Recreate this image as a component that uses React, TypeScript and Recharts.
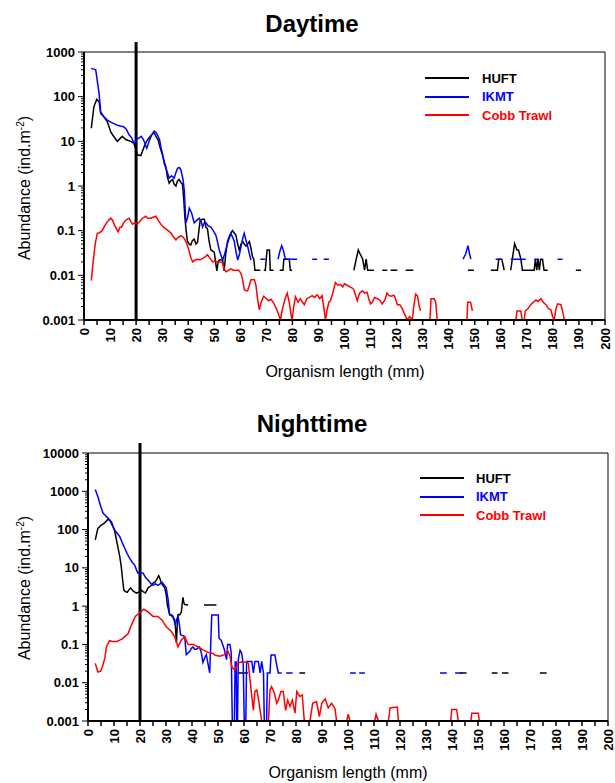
import React from 'react';
import { LineChart, Line, XAxis, YAxis, ReferenceLine, ReferenceArea, Legend } from 'recharts';

type Pt = [number, number | null];

// ---- Daytime (abundance, ind.m-2, by organism length in mm) ----
const dayHuft: Pt[] = [
  [2.8, 19.6], [3.8, 60], [4.9, 87], [5.8, 77], [6.4, 42], [7.7, 35], [9, 27], [10.3, 16], [11.5, 12.7],
  [12.8, 10], [13.8, 11.5], [14.7, 13], [16, 11], [17.9, 10], [19.2, 9], [20.5, 5], [21.8, 4.8], [23.1, 7.6],
  [24, 10], [25, 12], [26, 14], [26.9, 15.8], [27.6, 13], [28.5, 10.5], [29.3, 7], [30.1, 5], [30.8, 3.5],
  [31.4, 2.7], [32, 1.6], [32.7, 1.15], [33.3, 1.3], [34, 1.4], [34.6, 1.1], [35.3, 1], [35.9, 1.3], [36.5, 1.4],
  [37.2, 1.2], [37.8, 1.1], [38.3, 0.5], [38.7, 0.21], [39.2, 0.1], [39.7, 0.058], [40.4, 0.05], [41, 0.048],
  [41.6, 0.06], [42.3, 0.065], [43, 0.05], [43.6, 0.055], [44.1, 0.1], [44.6, 0.17], [45.4, 0.18], [46.2, 0.18],
  [46.8, 0.12], [47.4, 0.11], [48, 0.06], [48.7, 0.037], [49.4, 0.035], [50, 0.033], [50.5, 0.02], [51, 0.0126],
  [51.5, 0.02], [51.9, 0.022], [52.6, 0.022], [53.2, 0.022], [53.8, 0.0126], [54.4, 0.03], [55.1, 0.058],
  [56, 0.08], [57, 0.1], [57.6, 0.09], [58.3, 0.08], [59, 0.05], [59.6, 0.037], [60.3, 0.05], [60.9, 0.058],
  [61.5, 0.05], [62.2, 0.045], [62.8, 0.05], [63.5, 0.057], [64.1, 0.04], [64.7, 0.026], [65.2, 0.023],
  [65.6, 0.013], [67.7, 0.013], [68.2, null],
  [69, 0.013], [69.6, 0.013], [70, 0.025], [70.3, 0.037], [71.2, 0.037], [71.5, 0.013], [72.8, 0.013], [73.2, null],
  [75.1, 0.013], [76.4, 0.013], [76.7, 0.023], [78.8, 0.023], [79.2, 0.013], [79.9, 0.013], [80.3, null],
  [103.6, 0.013], [104.5, 0.023], [105.3, 0.037], [106, 0.03], [107, 0.023], [107.7, 0.013], [108.3, 0.023],
  [108.9, 0.013], [111.3, 0.013], [111.6, null],
  [114.5, 0.013], [116.4, 0.013], [116.8, null], [117.7, 0.013], [120.3, 0.013], [120.7, null],
  [123.5, 0.013], [126.4, 0.013], [126.8, null],
  [147.4, 0.013], [149.7, 0.013], [150, null],
  [156.2, 0.013], [158.7, 0.013], [159.2, 0.023], [160.4, 0.023], [161.3, 0.013], [161.9, null],
  [163.8, 0.013], [164.5, 0.025], [165.3, 0.051], [166.2, 0.037], [166.8, 0.037], [167.7, 0.023], [168.3, 0.013],
  [172.8, 0.013], [173.3, 0.023], [173.8, 0.013], [174.3, 0.023], [174.8, 0.013], [175.3, 0.023], [176, 0.023],
  [176.6, 0.013], [178, 0.013], [178.4, null],
  [188.8, 0.013], [190.8, 0.013],
];

const dayIkmt: Pt[] = [
  [2.8, 430], [4.5, 400], [5.8, 117], [6.4, 46], [7.7, 35], [9, 30], [10.3, 27], [11.5, 25], [12.8, 23], [14, 22],
  [15.4, 21], [16.4, 18], [17.3, 14], [18.3, 12], [19.2, 9], [20.2, 11], [21.2, 12], [22, 13], [22.8, 11],
  [24.1, 7], [25, 10], [26, 14], [26.9, 17], [27.6, 16], [28.2, 14], [29, 11], [29.5, 7.6], [30.2, 5], [30.8, 3.2],
  [31.8, 2.2], [32.7, 1.5], [33.6, 1.7], [34.6, 1.5], [35.3, 2], [35.9, 2.5], [36.6, 2.6], [37.2, 2.3], [38, 1.4],
  [38.5, 0.8], [39.1, 0.15], [39.8, 0.2], [40.4, 0.32], [41.3, 0.25], [42.3, 0.15], [43.3, 0.17], [44.2, 0.19],
  [45, 0.16], [45.5, 0.12], [46.2, 0.15], [46.8, 0.15], [47.6, 0.13], [48.7, 0.12], [49.6, 0.1], [50.6, 0.08],
  [51.3, 0.055], [51.9, 0.037], [52.6, 0.028], [53.2, 0.022], [54, 0.03], [55, 0.05], [56.4, 0.087], [57.1, 0.07],
  [57.7, 0.057], [58.3, 0.035], [59, 0.022], [59.7, 0.03], [60.3, 0.045], [61, 0.07], [61.5, 0.087], [62.2, 0.06],
  [62.8, 0.045], [63.5, 0.03], [64.1, 0.022], [64.5, null],
  [67.7, 0.023], [69.6, 0.023], [70, null],
  [74.5, 0.023], [75.2, 0.035], [75.9, 0.046], [76.6, 0.035], [77.3, 0.023], [81.8, 0.023], [82.2, null],
  [87.6, 0.023], [89.5, 0.023], [90, null], [92, 0.023], [94, 0.023], [94.5, null],
  [145.5, 0.023], [146.5, 0.03], [147.4, 0.046], [148, 0.03], [148.5, 0.023], [149, null],
  [158, 0.023], [160, 0.023], [160.5, null],
  [163.8, 0.023], [169.6, 0.023], [170, null], [172.8, 0.023], [174.7, 0.023], [175, null],
  [181.8, 0.023], [183.7, 0.023],
];

const dayCobb: Pt[] = [
  [2.8, 0.0076], [3.5, 0.02], [4.3, 0.05], [5.1, 0.087], [6, 0.09], [7, 0.1], [8, 0.13], [9, 0.16], [10.3, 0.19],
  [11, 0.17], [11.8, 0.13], [13.1, 0.095], [13.8, 0.12], [14.4, 0.12], [15.2, 0.15], [16, 0.17], [17.3, 0.19],
  [18, 0.16], [18.6, 0.14], [19.5, 0.15], [20.5, 0.14], [21.4, 0.16], [22.4, 0.19], [23.7, 0.21], [24.5, 0.19],
  [25.6, 0.19], [26.5, 0.2], [27.6, 0.21], [28.5, 0.17], [29.5, 0.14], [30.5, 0.12], [31.4, 0.11], [32.3, 0.1],
  [33.3, 0.09], [34.2, 0.075], [35.3, 0.062], [36, 0.07], [37.2, 0.077], [38.2, 0.07], [39.1, 0.058],
  [39.8, 0.045], [40.4, 0.034], [41, 0.025], [41.7, 0.02], [42.6, 0.022], [43.6, 0.023], [44.5, 0.022],
  [45.5, 0.024], [46.5, 0.026], [47.4, 0.029], [48.4, 0.024], [49.4, 0.02], [50.3, 0.021], [51.3, 0.02],
  [52.3, 0.02], [53.2, 0.019], [53.8, 0.014], [54.5, 0.012], [55.5, 0.013], [56.4, 0.014], [57.4, 0.013],
  [58.3, 0.013], [59.4, 0.013], [60.3, 0.011], [60.9, 0.008], [61.5, 0.0048], [62.2, 0.0045], [62.8, 0.0045],
  [63.5, 0.006], [64.1, 0.008], [64.8, 0.008], [65.4, 0.008], [66, 0.006], [66.7, 0.0028], [67.3, 0.0017],
  [68, 0.0025], [69, 0.0034], [70, 0.003], [70.9, 0.0027], [71.8, 0.0029], [72.8, 0.0024], [73.8, 0.0018],
  [74.6, 0.0014], [75.4, 0.001], [76.2, 0.0018], [77.2, 0.003], [78, 0.004], [78.8, 0.0025], [79.5, 0.0013],
  [79.9, 0.001], [80.5, 0.002], [81.2, 0.0033], [82.2, 0.0025], [83, 0.003], [83.7, 0.0026], [84.6, 0.0022],
  [85.5, 0.003], [86.5, 0.0032], [87.6, 0.0035], [88.5, 0.0032], [89.5, 0.0037], [90.5, 0.003], [91.4, 0.0035],
  [92, 0.002], [92.7, 0.001], [93.3, 0.0017], [94, 0.0025], [94.6, 0.0027], [95.5, 0.004], [96.5, 0.0069],
  [97.5, 0.006], [98.5, 0.0062], [99.3, 0.0055], [100, 0.0065], [101, 0.006], [102, 0.0055], [103, 0.0052],
  [103.6, 0.0048], [104.3, 0.0035], [104.9, 0.0027], [105.8, 0.004], [106.8, 0.0045], [107.7, 0.004],
  [108.7, 0.0042], [109.3, 0.003], [110, 0.0023], [110.7, 0.0025], [111.5, 0.0032], [112.6, 0.003],
  [113.5, 0.0028], [114.5, 0.0023], [115.5, 0.0028], [116.3, 0.004], [117.1, 0.0035], [118, 0.0034],
  [119, 0.0036], [119.6, 0.003], [120.3, 0.0022], [121.2, 0.0022], [122.2, 0.0018], [123.2, 0.0013],
  [124.1, 0.001], [125, 0.0012], [126, 0.001], [126.6, 0.002], [127.3, 0.0038], [128, 0.0035], [128.7, 0.002],
  [129.2, 0.0016], [129.5, null],
  [132.8, 0.001], [133.2, 0.003], [134.4, 0.003], [135, 0.0025], [135.6, 0.001], [136, null],
  [147, 0.001], [147.3, 0.0025], [148.4, 0.0025], [149.1, 0.0016], [149.5, null],
  [165.8, 0.001], [166.2, 0.0016], [167.7, 0.0016], [168.2, 0.001], [169, 0.001], [169.4, 0.0016],
  [170.5, 0.0018], [171.5, 0.0022], [172.5, 0.0025], [173.5, 0.0028], [174.3, 0.0026], [175.4, 0.003],
  [176.3, 0.0025], [177.3, 0.0022], [178.3, 0.0018], [179.2, 0.0017], [179.9, 0.0012], [180.5, 0.001],
  [181.2, 0.0018], [181.8, 0.0023], [183.1, 0.0022], [183.8, 0.0015], [184.4, 0.001], [185, null],
];

// ---- Nighttime ----
const nightHuft: Pt[] = [
  [2.8, 54], [3.8, 107], [5.1, 131], [6.4, 150], [7.7, 185], [9, 160], [10.3, 89], [11.5, 35], [12.2, 20],
  [12.8, 10.7], [13.3, 5], [13.8, 2.6], [14.4, 2.4], [15.1, 2.3], [15.8, 2.7], [16.4, 3], [17.3, 2.5],
  [18.6, 2.2], [19.9, 2.4], [20.5, 2.6], [21.2, 2.4], [22.1, 2.2], [23.1, 3], [24, 3.3], [25, 4], [25.7, 4.2],
  [26.3, 4.8], [27.2, 6.2], [27.7, 5.2], [28.2, 4], [29.5, 3], [30.1, 2], [30.5, 1.1], [31.4, 0.6], [32.3, 0.55],
  [33.3, 0.45], [33.7, 0.25], [34, 0.11], [34.3, 0.3], [34.6, 0.6], [35.3, 0.6], [35.9, 0.7], [36.5, 1.7],
  [36.9, 1.2], [37.2, 1.1], [38.5, 1.07], [38.8, null],
  [44.6, 1.07], [49.4, 1.07], [49.7, null],
  [57.5, 0.018], [61.5, 0.018], [61.8, null],
  [81.3, 0.018], [83.5, 0.018], [83.8, null],
  [143.1, 0.018], [145.6, 0.018], [145.9, null],
  [155.3, 0.018], [157.5, 0.018], [157.8, null], [159.2, 0.018], [161.7, 0.018], [162, null],
  [173.8, 0.018], [176.4, 0.018],
];

const nightIkmt: Pt[] = [
  [2.8, 1120], [3.8, 720], [4.9, 400], [5.8, 265], [6.5, 240], [7.1, 218], [8.3, 180], [9.3, 130], [10.3, 97],
  [11.2, 80], [12.2, 66], [13.2, 45], [14.1, 33], [15, 24], [16, 18], [17, 14], [17.9, 12], [18.6, 9],
  [19.2, 7.3], [20.2, 7.5], [21.2, 7.3], [22.2, 5.5], [23.1, 4.8], [24, 4], [25, 3.5], [26, 3.8], [26.9, 3.5],
  [27.7, 3.8], [28.5, 4.2], [29.3, 3.6], [30.1, 3], [30.8, 1.5], [31.4, 0.59], [32, 0.6], [32.7, 0.55],
  [33.2, 0.4], [33.6, 0.32], [34.1, 0.45], [34.6, 0.55], [35.1, 0.35], [35.6, 0.18], [36.4, 0.17], [37.2, 0.16],
  [37.8, 0.054], [38.5, 0.06], [39.1, 0.065], [39.8, 0.08], [40.4, 0.085], [41, 0.075], [41.7, 0.075],
  [42.3, 0.08], [42.9, 0.085], [43.6, 0.06], [44.2, 0.034], [44.9, 0.045], [45.5, 0.054], [46.2, 0.03],
  [46.8, 0.018], [47.2, 0.1], [47.6, 0.59], [50.1, 0.59], [50.4, 0.145], [51.2, 0.13], [52.4, 0.075],
  [53.3, 0.04], [53.7, 0.1], [54.6, 0.1], [55.1, 0.06], [55.5, 0.001], [56.3, 0.001], [56.6, 0.035],
  [57, 0.035], [57.2, 0.001], [57.5, 0.001], [57.8, 0.04], [58.5, 0.07], [59.1, 0.06], [59.7, 0.03],
  [60.1, 0.001], [60.7, 0.001], [61, 0.036], [63, 0.036], [63.6, 0.018], [64.2, 0.036], [65.5, 0.036],
  [66.2, 0.018], [66.8, 0.036], [67.5, 0.018], [67.8, 0.001], [68.7, 0.001], [69, 0.018], [70, 0.018],
  [70.4, 0.053], [71.9, 0.053], [72.3, 0.036], [73.2, 0.018], [74.5, 0.018], [75, null],
  [76.2, 0.018], [78.7, 0.018], [79, null],
  [100.8, 0.018], [103, 0.018], [103.3, null], [104.3, 0.018], [106.5, 0.018], [107, null],
  [135.4, 0.018], [138, 0.018], [138.3, null], [141.2, 0.018], [143.7, 0.018],
];

const nightCobb: Pt[] = [
  [2.8, 0.032], [3.8, 0.019], [4.9, 0.02], [5.8, 0.03], [6.5, 0.045], [7.1, 0.087], [8.3, 0.125], [9.3, 0.12],
  [10.3, 0.12], [11.2, 0.12], [12.2, 0.13], [13.2, 0.14], [14.1, 0.16], [15.4, 0.19], [16.7, 0.32], [18.2, 0.54],
  [19.9, 0.68], [21.5, 0.83], [23.1, 0.71], [25, 0.54], [26.9, 0.54], [28.5, 0.43], [30.1, 0.29], [32, 0.22],
  [33.3, 0.16], [34.6, 0.087], [35.9, 0.13], [37.2, 0.16], [38.5, 0.1], [40.4, 0.1], [42.3, 0.087],
  [44.2, 0.072], [46.2, 0.062], [48.1, 0.058], [48.9, 0.052], [50.8, 0.049], [52.7, 0.055], [53.7, 0.07],
  [54.6, 0.05], [55.3, 0.026], [56.5, 0.021], [57.6, 0.032], [59.1, 0.035], [61, 0.034], [61.7, 0.032],
  [62.3, 0.012], [63, 0.0044], [63.6, 0.0019], [64.2, 0.0059], [64.9, 0.0065], [65.5, 0.004], [66.2, 0.0019],
  [66.8, 0.001], [69.4, 0.001], [70, 0.0065], [70.6, 0.0079], [71.7, 0.0053], [72.6, 0.0029], [73.2, 0.0035],
  [74.2, 0.0059], [75.1, 0.0059], [76, 0.0019], [76.8, 0.0035], [77.7, 0.0024], [78.6, 0.0035], [79.6, 0.0016],
  [80.3, 0.0059], [81.5, 0.0044], [82.4, 0.0048], [83.2, 0.001], [85.4, 0.001], [86.4, 0.0029], [87.9, 0.0032],
  [89, 0.0013], [89.9, 0.0029], [91.2, 0.0038], [92.4, 0.0022], [93.7, 0.0029], [95, 0.0021], [95.6, 0.001],
  [99.5, 0.001], [100.1, 0.0015], [100.8, 0.001], [101.2, null],
  [110.3, 0.001], [110.8, 0.0015], [111.7, 0.001], [112, null],
  [115.5, 0.001], [116.2, 0.0022], [118, 0.0023], [119, 0.0023], [119.4, 0.001], [119.8, null],
  [139.5, 0.001], [139.9, 0.002], [141.8, 0.002], [142.4, 0.001], [142.8, null],
  [147.3, 0.001], [147.6, 0.0016], [150.1, 0.0016], [150.5, 0.001], [150.8, null],
];

// axis ticks
const xTicks = [0, 5, 10, 15, 20, 25, 30, 35, 40, 45, 50, 55, 60, 65, 70, 75, 80, 85, 90, 95, 100,
  105, 110, 115, 120, 125, 130, 135, 140, 145, 150, 155, 160, 165, 170, 175, 180, 185, 190, 195, 200];
const dayDecades = [0.001, 0.01, 0.1, 1, 10, 100, 1000];
const nightDecades = [0.001, 0.01, 0.1, 1, 10, 100, 1000, 10000];
const minorSteps = [2, 3, 4, 5, 6, 7, 8, 9];
const seriesOrder = ['HUFT', 'IKMT', 'Cobb Trawl'];

const FONT = '"Liberation Sans", Arial, sans-serif';
const toPts = (arr: Pt[]) => arr.map(([x, y]) => ({ x, y }));

const withMinor = (decades: number[]) => {
  const top = decades[decades.length - 1];
  const out: number[] = [];
  decades.forEach((d) => {
    out.push(d);
    if (d < top) minorSteps.forEach((m) => out.push(d * m));
  });
  return out;
};

const YTick = ({ x, y, payload, decades }: any) => {
  const major = decades.includes(payload.value);
  return (
    <g>
      <line x1={x - (major ? 6 : 3)} x2={x} y1={y} y2={y} stroke="#000" strokeWidth={1} />
      {major && (
        <text x={x - 9} y={y} textAnchor="end" dominantBaseline="central" fontSize={13}
          fontWeight="bold" fontFamily={FONT} fill="#000">
          {String(payload.value)}
        </text>
      )}
    </g>
  );
};

const XTick = ({ x, y, payload }: any) => {
  const label = payload.value % 10 === 0;
  return (
    <g>
      <line x1={x} x2={x} y1={y} y2={y + 5} stroke="#000" strokeWidth={1.5} />
      {label && (
        <text x={x} y={y + 8} transform={`rotate(-90, ${x}, ${y + 8})`} textAnchor="end"
          dominantBaseline="central" fontSize={13} fontWeight="bold" fontFamily={FONT} fill="#000">
          {payload.value}
        </text>
      )}
    </g>
  );
};

const CustomLegend = ({ payload, gap }: any) => {
  const items = [...(payload || [])].sort(
    (a: any, b: any) => seriesOrder.indexOf(a.value) - seriesOrder.indexOf(b.value)
  );
  return (
    <div style={{ fontFamily: FONT }}>
      {items.map((entry: any, i: number) => (
        <div key={i} style={{ display: 'flex', alignItems: 'center', height: 18.5 }}>
          <div style={{ width: 44, height: 2, background: entry.color, marginRight: gap }} />
          <span style={{ fontSize: 13, fontWeight: 'bold', color: entry.color, lineHeight: '15px' }}>{entry.value}</span>
        </div>
      ))}
    </div>
  );
};

interface PanelProps {
  huft: Pt[];
  ikmt: Pt[];
  cobb: Pt[];
  decades: number[];
  height: number;
  margin: { top: number; right: number; bottom: number; left: number };
  yWidth: number;
  lineTop: number;
  legendLeft: number;
  legendGap: number;
}

const Panel: React.FC<PanelProps> = ({ huft, ikmt, cobb, decades, height, margin, yWidth, lineTop, legendLeft, legendGap }) => {
  const yMin = decades[0];
  const yMax = decades[decades.length - 1];
  return (
    <LineChart width={615} height={height} margin={margin}>
      <ReferenceArea x1={0} x2={200} y1={yMin} y2={yMax} fill="none" stroke="#000" strokeWidth={1} fillOpacity={0} />
      <XAxis type="number" dataKey="x" domain={[0, 200]} ticks={xTicks} interval={0} allowDataOverflow
        height={40} tickSize={0} tickMargin={0} tickLine={false}
        axisLine={{ stroke: '#000', strokeWidth: 2 }} tick={<XTick />} />
      <YAxis type="number" dataKey="y" scale="log" domain={[yMin, yMax]} ticks={withMinor(decades)} interval={0}
        allowDataOverflow width={yWidth} tickSize={0} tickMargin={0} tickLine={false}
        axisLine={{ stroke: '#000', strokeWidth: 2 }} tick={<YTick decades={decades} />} />
      <ReferenceLine segment={[{ x: 20, y: yMin }, { x: 20, y: lineTop }]} stroke="#000" strokeWidth={3}
        ifOverflow="visible" />
      <Line data={toPts(huft)} dataKey="y" name="HUFT" stroke="#000000" strokeWidth={1.5} dot={false}
        activeDot={false} isAnimationActive={false} connectNulls={false} />
      <Line data={toPts(ikmt)} dataKey="y" name="IKMT" stroke="#0000ff" strokeWidth={1.5} dot={false}
        activeDot={false} isAnimationActive={false} connectNulls={false} />
      <Line data={toPts(cobb)} dataKey="y" name="Cobb Trawl" stroke="#ff0000" strokeWidth={1.5} dot={false}
        activeDot={false} isAnimationActive={false} connectNulls={false} />
      <Legend layout="vertical" align="center" verticalAlign="middle"
        content={<CustomLegend gap={legendGap} />}
        wrapperStyle={{ position: 'absolute', top: 69, left: legendLeft, width: 170, height: 60 }} />
    </LineChart>
  );
};

const txt = { fontFamily: FONT, fill: '#000' } as const;

const YLabel = ({ x, y }: { x: number; y: number }) => (
  <text x={x} y={y} transform={`rotate(-90, ${x}, ${y})`} textAnchor="middle" fontSize={16} {...txt}>
    Abundance (ind.m<tspan dy={-6} fontSize={10}>-2</tspan><tspan dy={6}>)</tspan>
  </text>
);

export default function App() {
  return (
    <div style={{ position: 'absolute', left: 0, top: 0, width: 615, height: 783, background: '#fff', overflow: 'hidden' }}>
      <div style={{ position: 'absolute', left: 0, top: 0 }}>
        <Panel huft={dayHuft} ikmt={dayIkmt} cobb={dayCobb} decades={dayDecades} height={390}
          margin={{ top: 52, right: 10, bottom: 30, left: 0 }} yWidth={84} lineTop={1670}
          legendLeft={425} legendGap={13} />
      </div>
      <div style={{ position: 'absolute', left: 0, top: 400 }}>
        <Panel huft={nightHuft} ikmt={nightIkmt} cobb={nightCobb} decades={nightDecades} height={383}
          margin={{ top: 53, right: 7, bottom: 22, left: 0 }} yWidth={88} lineTop={18250}
          legendLeft={420} legendGap={12} />
      </div>
      <svg width={615} height={783} style={{ position: 'absolute', left: 0, top: 0, pointerEvents: 'none' }}>
        <text x={312} y={32} textAnchor="middle" fontSize={24} fontWeight="bold" {...txt}>Daytime</text>
        <text x={312} y={432} textAnchor="middle" fontSize={24} fontWeight="bold" {...txt}>Nighttime</text>
        <text x={345} y={377} textAnchor="middle" fontSize={16} {...txt}>Organism length (mm)</text>
        <text x={348} y={778} textAnchor="middle" fontSize={16} {...txt}>Organism length (mm)</text>
        <YLabel x={30} y={188} />
        <YLabel x={30} y={588} />
      </svg>
    </div>
  );
}
